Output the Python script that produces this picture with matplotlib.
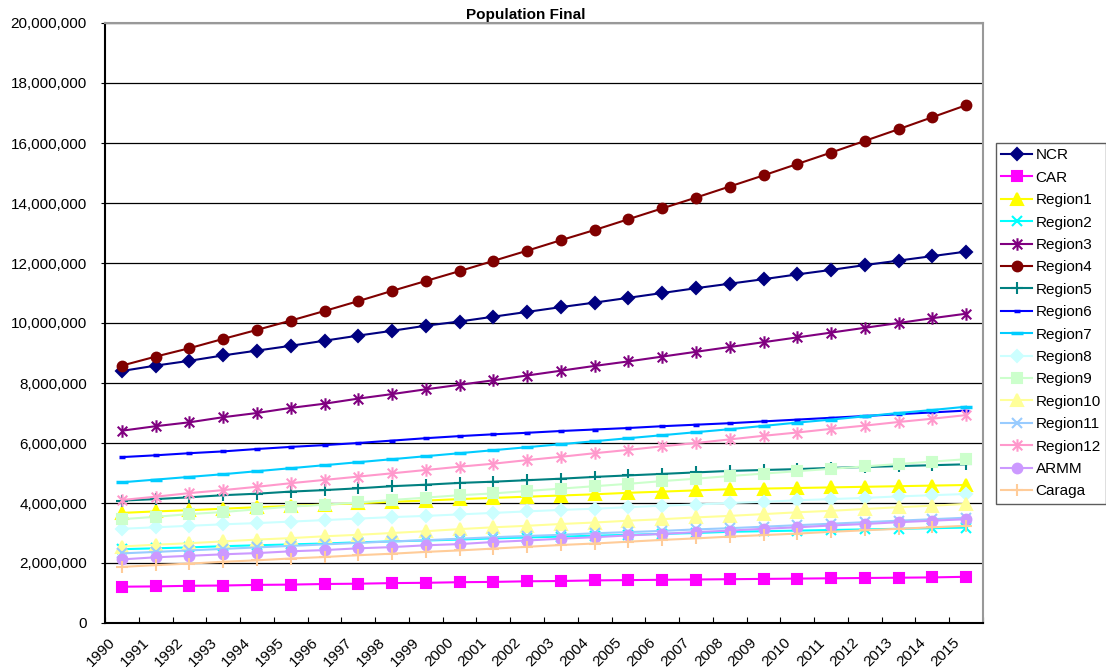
import matplotlib
matplotlib.use("Agg")
import matplotlib.pyplot as plt
from matplotlib.path import Path
from matplotlib.ticker import FuncFormatter, FixedLocator

plt.rcParams['font.family'] = ['Liberation Sans', 'DejaVu Sans']

years = [str(y) for y in range(1990, 2016)]

# population per region, in millions
ncr = [8.40, 8.58, 8.74, 8.92, 9.08, 9.24, 9.41, 9.58, 9.74, 9.91, 10.05, 10.21, 10.37,
       10.53, 10.68, 10.84, 11.00, 11.16, 11.31, 11.46, 11.62, 11.77, 11.93, 12.08, 12.23, 12.38]
car = [1.21, 1.22, 1.24, 1.25, 1.27, 1.28, 1.30, 1.31, 1.33, 1.34, 1.36, 1.37, 1.39,
       1.40, 1.42, 1.43, 1.44, 1.45, 1.46, 1.47, 1.48, 1.49, 1.50, 1.51, 1.52, 1.54]
region1 = [3.67, 3.72, 3.76, 3.81, 3.86, 3.90, 3.95, 3.99, 4.04, 4.08, 4.13, 4.17, 4.21,
           4.25, 4.29, 4.34, 4.38, 4.42, 4.46, 4.48, 4.50, 4.52, 4.54, 4.56, 4.58, 4.60]
region2 = [2.46, 2.49, 2.52, 2.56, 2.59, 2.62, 2.65, 2.69, 2.72, 2.75, 2.78, 2.82, 2.85,
           2.88, 2.91, 2.94, 2.97, 3.00, 3.04, 3.06, 3.08, 3.10, 3.12, 3.14, 3.16, 3.18]
region3 = [6.41, 6.56, 6.69, 6.86, 7.00, 7.17, 7.31, 7.48, 7.63, 7.79, 7.94, 8.09, 8.25,
           8.41, 8.57, 8.72, 8.88, 9.04, 9.20, 9.36, 9.52, 9.68, 9.84, 10.00, 10.16, 10.31]
region4 = [8.58, 8.88, 9.16, 9.47, 9.77, 10.08, 10.40, 10.73, 11.07, 11.40, 11.73, 12.07, 12.41,
           12.76, 13.10, 13.46, 13.82, 14.18, 14.55, 14.92, 15.30, 15.68, 16.07, 16.46, 16.86, 17.26]
region5 = [4.08, 4.13, 4.19, 4.26, 4.31, 4.38, 4.43, 4.49, 4.56, 4.61, 4.67, 4.71, 4.76,
           4.81, 4.87, 4.92, 4.97, 5.02, 5.07, 5.10, 5.13, 5.17, 5.20, 5.23, 5.26, 5.29]
region6 = [5.53, 5.59, 5.66, 5.72, 5.80, 5.87, 5.93, 6.00, 6.08, 6.16, 6.23, 6.29, 6.34,
           6.40, 6.45, 6.50, 6.56, 6.61, 6.66, 6.72, 6.78, 6.84, 6.90, 6.96, 7.02, 7.08]
region7 = [4.69, 4.78, 4.87, 4.96, 5.06, 5.16, 5.26, 5.36, 5.46, 5.56, 5.66, 5.76, 5.86,
           5.96, 6.06, 6.16, 6.26, 6.36, 6.46, 6.57, 6.68, 6.78, 6.89, 7.00, 7.10, 7.21]
region8 = [3.14, 3.19, 3.24, 3.29, 3.33, 3.38, 3.43, 3.48, 3.53, 3.57, 3.62, 3.67, 3.72,
           3.77, 3.81, 3.86, 3.91, 3.95, 4.00, 4.04, 4.09, 4.13, 4.17, 4.22, 4.26, 4.30]
region9 = [3.46, 3.54, 3.63, 3.70, 3.79, 3.88, 3.94, 4.02, 4.10, 4.18, 4.26, 4.32, 4.40,
           4.48, 4.56, 4.64, 4.73, 4.81, 4.90, 4.98, 5.06, 5.14, 5.22, 5.30, 5.38, 5.46]
region10 = [2.55, 2.61, 2.66, 2.72, 2.78, 2.83, 2.89, 2.94, 3.00, 3.06, 3.13, 3.19, 3.24,
            3.30, 3.35, 3.41, 3.46, 3.52, 3.57, 3.63, 3.69, 3.74, 3.80, 3.86, 3.91, 3.97]
region11 = [2.32, 2.37, 2.42, 2.47, 2.52, 2.57, 2.62, 2.67, 2.72, 2.76, 2.81, 2.86, 2.90,
            2.94, 2.99, 3.03, 3.07, 3.12, 3.16, 3.21, 3.26, 3.31, 3.36, 3.41, 3.46, 3.51]
region12 = [4.10, 4.21, 4.33, 4.43, 4.54, 4.66, 4.77, 4.88, 4.99, 5.10, 5.21, 5.31, 5.43,
            5.54, 5.66, 5.77, 5.89, 6.00, 6.12, 6.24, 6.35, 6.47, 6.58, 6.70, 6.81, 6.93]
armm = [2.12, 2.19, 2.24, 2.29, 2.33, 2.39, 2.43, 2.49, 2.53, 2.59, 2.63, 2.70, 2.75,
        2.81, 2.86, 2.92, 2.97, 3.03, 3.08, 3.14, 3.19, 3.25, 3.30, 3.36, 3.41, 3.46]
caraga = [1.87, 1.93, 1.98, 2.04, 2.09, 2.15, 2.20, 2.26, 2.31, 2.37, 2.42, 2.48, 2.54,
          2.60, 2.65, 2.71, 2.77, 2.82, 2.88, 2.93, 2.98, 3.04, 3.09, 3.14, 3.19, 3.24]

# excel-style star: an x with a vertical bar through it
star = Path([(-1, -1), (1, 1), (-1, 1), (1, -1), (0, -1.3), (0, 1.3)],
            [Path.MOVETO, Path.LINETO] * 3)

# name, values, colour, marker, marker size
series = [
    ("NCR", ncr, "#000080", "D", 6),
    ("CAR", car, "#FF00FF", "s", 7),
    ("Region1", region1, "#FFFF00", "^", 8),
    ("Region2", region2, "#00FFFF", "x", 7),
    ("Region3", region3, "#800080", star, 9),
    ("Region4", region4, "#800000", "o", 7),
    ("Region5", region5, "#008080", "+", 9),
    ("Region6", region6, "#0000FF", "_", 5),
    ("Region7", region7, "#00CCFF", "_", 8),
    ("Region8", region8, "#CCFFFF", "D", 6),
    ("Region9", region9, "#CCFFCC", "s", 7),
    ("Region10", region10, "#FFFF99", "^", 8),
    ("Region11", region11, "#99CCFF", "x", 7),
    ("Region12", region12, "#FF99CC", star, 9),
    ("ARMM", armm, "#CC99FF", "o", 7),
    ("Caraga", caraga, "#FFCC99", "+", 9),
]

fig = plt.figure(figsize=(11.06, 6.71), dpi=100)
ax = fig.add_axes([105 / 1106, 1 - 623 / 671, 878 / 1106, 600 / 671])

x = list(range(len(years)))
for name, vals, col, mk, ms in series:
    ew = 2.5 if mk == "_" else 1.5
    ax.plot(x, [v * 1e6 for v in vals], color=col, lw=1.5, marker=mk, ms=ms,
            mfc=col, mec=col, mew=ew, label=name)

ax.set_xlim(-0.5, len(years) - 0.5)
ax.set_ylim(0, 20e6)
ax.set_yticks([i * 2e6 for i in range(11)])
ax.yaxis.set_major_formatter(FuncFormatter(lambda v, p: f"{int(v):,}"))
ax.grid(axis="y", color="black", lw=0.9)
ax.set_axisbelow(True)

# tick marks on category boundaries, year labels beside them
ax.xaxis.set_major_locator(FixedLocator([i - 0.5 for i in range(len(years) + 1)]))
ax.xaxis.set_minor_locator(FixedLocator([i - 0.4 for i in range(len(years))]))
ax.set_xticklabels([])
ax.set_xticklabels(years, minor=True, rotation=45, ha="right", rotation_mode="anchor")
ax.tick_params(axis="x", which="major", direction="in", length=4, color="black")
ax.tick_params(axis="x", which="minor", length=0, pad=9, labelsize=11)
ax.tick_params(axis="y", direction="out", length=3, labelsize=11, pad=10)

for s in ("left", "bottom"):
    ax.spines[s].set_color("black")
    ax.spines[s].set_linewidth(1.5)
for s in ("top", "right"):
    ax.spines[s].set_color("#999999")
    ax.spines[s].set_linewidth(1.5)

fig.text(526 / 1106, 1 - 15 / 671, "Population Final", ha="center", va="center",
         fontsize=11, fontweight="bold")

leg = fig.legend(loc="upper left", bbox_to_anchor=(996 / 1106, 1 - 143 / 671),
                 fontsize=11, labelspacing=0.55, handlelength=2.0, handletextpad=0.25,
                 borderpad=0.35, borderaxespad=0, fancybox=False, frameon=True)
leg.get_frame().set_edgecolor("#333333")
leg.get_frame().set_linewidth(1.0)

fig.savefig("out.png", dpi=100)
